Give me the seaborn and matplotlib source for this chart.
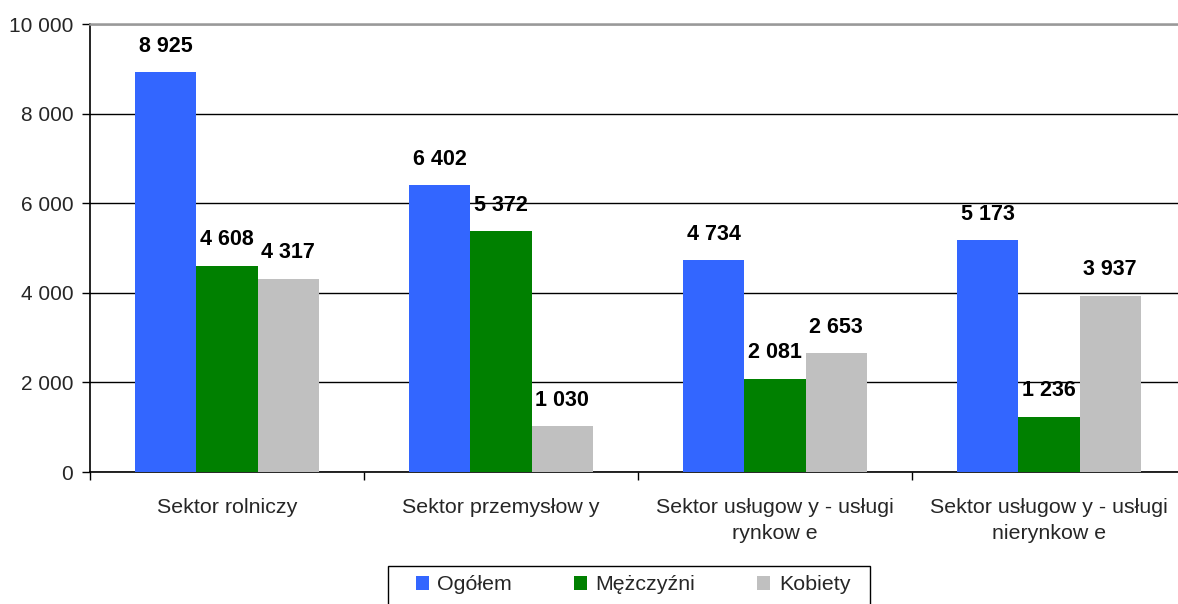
import numpy as np
import pandas as pd
import matplotlib
matplotlib.use("Agg")
import matplotlib.pyplot as plt
from matplotlib.patches import Rectangle
import seaborn as sns

# data
sectors = ["Sektor rolniczy", "Sektor przemysłow y",
           "Sektor usługow y - usługi\nrynkow e", "Sektor usługow y - usługi\nnierynkow e"]
series = ["Ogółem", "Mężczyźni", "Kobiety"]
ogolem = [8925, 6402, 4734, 5173]
mezczyzni = [4608, 5372, 2081, 1236]
kobiety = [4317, 1030, 2653, 3937]
colors = ["#3366FF", "#008000", "#C0C0C0"]

df = pd.DataFrame({
    "sektor": sectors * 3,
    "grupa": [s for s in series for _ in sectors],
    "wartosc": ogolem + mezczyzni + kobiety,
})

sns.set_style("white")
plt.rcParams["font.family"] = ["Liberation Sans", "DejaVu Sans"]

fig = plt.figure(figsize=(11.78, 6.04), dpi=100)
ax = fig.add_axes([90 / 1178, 1 - 472 / 604, 1096 / 1178, 448 / 604])

sns.barplot(data=df, x="sektor", y="wartosc", hue="grupa", palette=colors,
            width=0.67, gap=0, saturation=1, ax=ax, errorbar=None, zorder=3,
            linewidth=0, edgecolor="none")

def fmt(v):
    return f"{int(v):,}".replace(",", " ")

for cont in ax.containers:
    ax.bar_label(cont, labels=[fmt(b.get_height()) for b in cont], padding=11,
                 fontsize=15.5, fontweight="bold", color="black")

ax.set_ylim(0, 10000)
ax.set_xlim(-0.5, 3.5)
ax.set_yticks(np.arange(0, 10001, 2000))
ax.set_yticklabels([fmt(v) for v in np.arange(0, 10001, 2000)], fontsize=15)
ax.yaxis.grid(True, color="black", linewidth=1, zorder=0)
ax.set_axisbelow(True)

ax.set_xticks(range(len(sectors)))
ax.set_xticklabels(sectors, fontsize=15.4, linespacing=1.45)
ax.set_xticks(np.arange(-0.5, 4, 1), minor=True)
ax.tick_params(axis="x", which="major", length=0, pad=19)
ax.tick_params(axis="x", which="minor", length=6, width=1, color="black", direction="out", bottom=True)
ax.tick_params(axis="y", length=6, width=1, color="black", direction="out", left=True, pad=6)
ax.set_xlabel("")
ax.set_ylabel("")

for side in ["left", "bottom"]:
    ax.spines[side].set_color("black")
    ax.spines[side].set_linewidth(1.2)
ax.spines["top"].set_color("#999999")
ax.spines["top"].set_linewidth(1.8)
ax.spines["right"].set_visible(False)

handles, labels = ax.get_legend_handles_labels()
ax.get_legend().remove()
fig.legend(handles, labels, loc="center left", bbox_to_anchor=(416 / 1178, 1 - 585 / 604),
           ncol=3, fontsize=15.4, frameon=False, handlelength=0.6, handleheight=0.6,
           handletextpad=0.4, columnspacing=2.9, borderpad=0, borderaxespad=0)
fig.patches.append(Rectangle((388 / 1178, -0.01), 482 / 1178, 1 - 566 / 604 + 0.01,
                             transform=fig.transFigure, fill=False,
                             edgecolor="black", linewidth=1))

fig.savefig("out.png", dpi=100)
